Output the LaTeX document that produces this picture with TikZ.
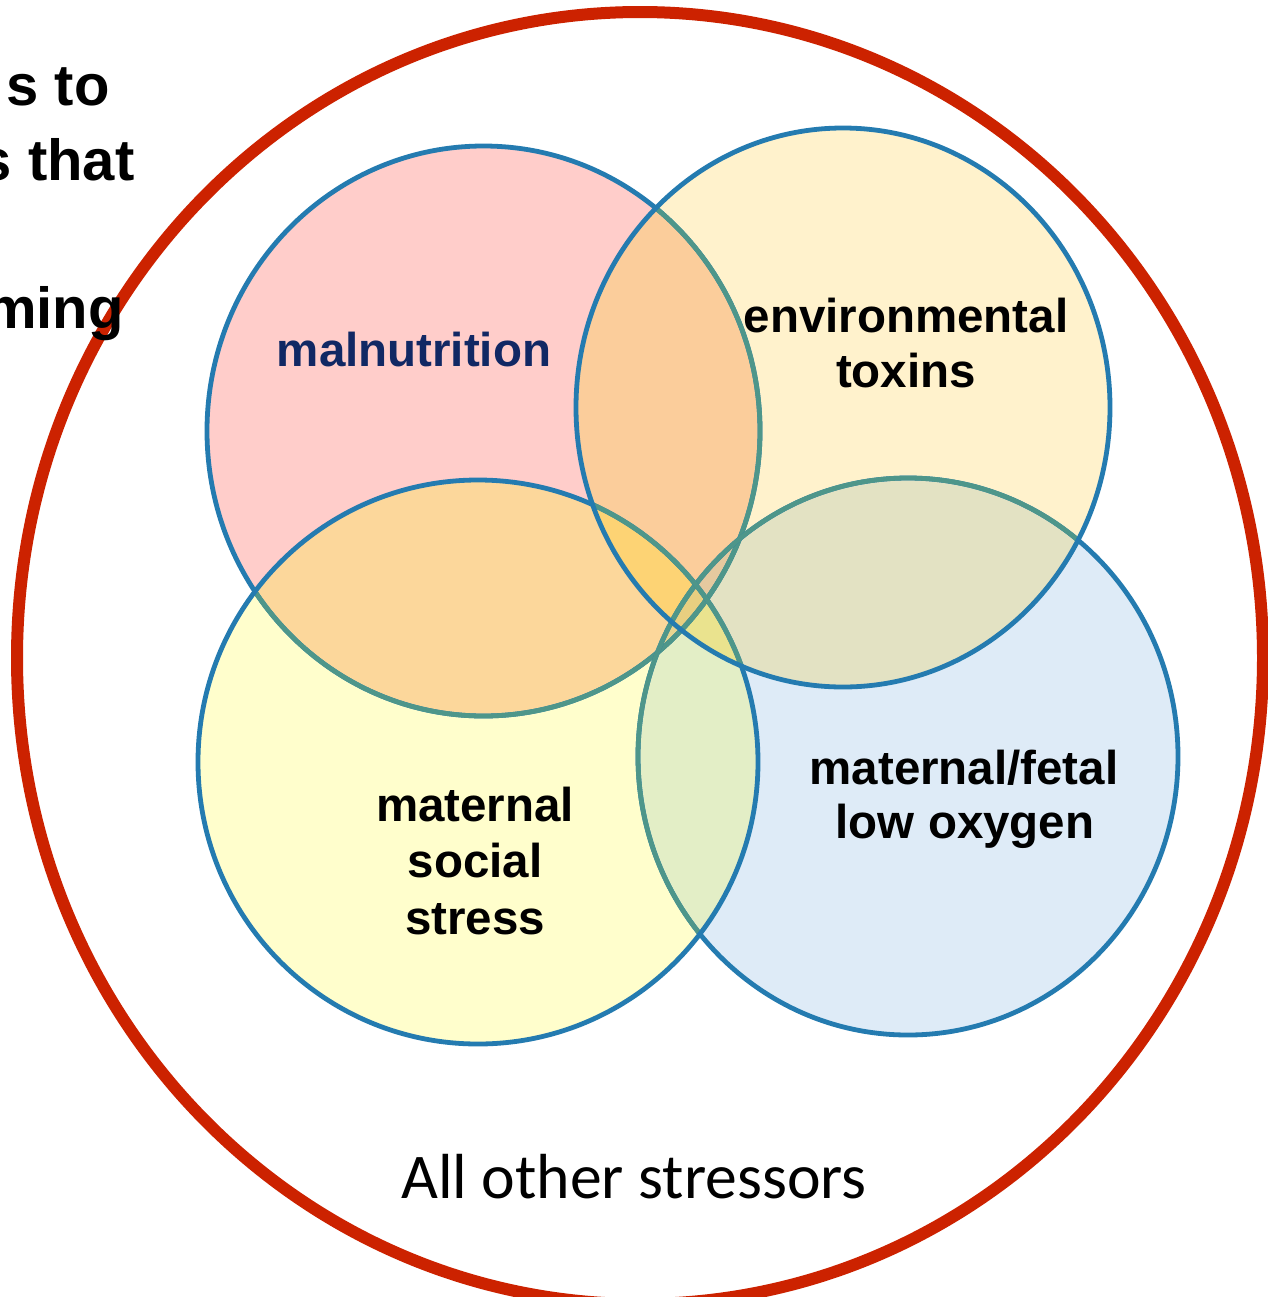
\documentclass[tikz,border=0pt]{standalone}
\usepackage{fontspec}
\setmainfont{Liberation Sans}
\newfontfamily\calibfont{Carlito}
\definecolor{vblue}{RGB}{36,123,176}
\definecolor{vteal}{RGB}{78,150,138}
\definecolor{vred}{RGB}{204,34,0}
\definecolor{cpink}{RGB}{255,205,202}
\definecolor{cenv}{RGB}{255,242,204}
\definecolor{csoc}{RGB}{255,254,204}
\definecolor{coxy}{RGB}{222,235,247}
\definecolor{cme}{RGB}{251,205,155}
\definecolor{cms}{RGB}{252,215,155}
\definecolor{ceo}{RGB}{227,226,195}
\definecolor{cso}{RGB}{227,238,198}
\definecolor{ces}{RGB}{253,228,165}
\definecolor{cmo}{RGB}{235,210,190}
\definecolor{cmes}{RGB}{253,211,116}
\definecolor{ceso}{RGB}{234,227,142}
\definecolor{cmeo}{RGB}{229,201,159}
\definecolor{cmso}{RGB}{232,213,144}
\definecolor{call}{RGB}{232,207,128}
\definecolor{navy}{RGB}{17,40,100}
\tikzset{
  lbl/.style={font=\bfseries\fontsize{23.75}{28}\selectfont, inner sep=0pt, anchor=base},
  tl/.style={font=\bfseries\fontsize{29}{34}\selectfont, inner sep=0pt, anchor=base east},
  vline/.style={draw=vblue, line width=2.4pt},
  tline/.style={draw=vteal, line width=2.4pt},
  pmal/.style={insert path={(483.5,431) ellipse [x radius=138.25pt, y radius=142.5pt]}},
  poxy/.style={insert path={(908,756.5) ellipse [x radius=135pt, y radius=139.25pt]}},
  psoc/.style={insert path={(478,762) ellipse [x radius=140pt, y radius=141pt]}},
  penv/.style={insert path={(843,407.5) ellipse [x radius=133.5pt, y radius=139.75pt]}},
}
\begin{document}
\begin{tikzpicture}[x=0.5pt,y=-0.5pt]
\useasboundingbox (0,0) rectangle (1268,1297);
\clip (0,0) rectangle (1268,1297);
\fill[white] (0,0) rectangle (1268,1297);
% big red circle
\draw[vred, line width=6pt] (640,658) ellipse [x radius=311.5pt, y radius=323pt];
% cut-off title text
\node[tl] (t1) at (110,105) {s to};
\node[tl] (t2) at (135,180) {s that};
\node[tl] (t3) at (124,328) {ming};
% single fills
\fill[cpink, pmal];
\fill[coxy, poxy];
\fill[csoc, psoc];
\fill[cenv, penv];
% pair fills
\begin{scope}\clip[pmal]; \fill[cme, penv]; \end{scope}
\begin{scope}\clip[pmal]; \fill[cms, psoc]; \end{scope}
\begin{scope}\clip[penv]; \fill[ceo, poxy]; \end{scope}
\begin{scope}\clip[psoc]; \fill[cso, poxy]; \end{scope}
\begin{scope}\clip[penv]; \fill[ces, psoc]; \end{scope}
\begin{scope}\clip[pmal]; \fill[cmo, poxy]; \end{scope}
% triple fills
\begin{scope}\clip[pmal]; \clip[penv]; \fill[cmes, psoc]; \end{scope}
\begin{scope}\clip[penv]; \clip[psoc]; \fill[ceso, poxy]; \end{scope}
\begin{scope}\clip[pmal]; \clip[penv]; \fill[cmeo, poxy]; \end{scope}
\begin{scope}\clip[pmal]; \clip[psoc]; \fill[cmso, poxy]; \end{scope}
% all four
\begin{scope}\clip[pmal]; \clip[penv]; \clip[psoc]; \fill[call, poxy]; \end{scope}
% outlines: malnutrition
\draw[vline, pmal];
\begin{scope}\clip[poxy]; \draw[tline, pmal]; \end{scope}
\begin{scope}\clip[psoc]; \draw[tline, pmal]; \end{scope}
\begin{scope}\clip[penv]; \draw[tline, pmal]; \end{scope}
% low oxygen
\draw[vline, poxy];
\begin{scope}\clip[psoc]; \draw[tline, poxy]; \end{scope}
\begin{scope}\clip[penv]; \draw[tline, poxy]; \end{scope}
% social stress
\draw[vline, psoc];
\begin{scope}\clip[penv]; \draw[tline, psoc]; \end{scope}
% environmental toxins
\draw[vline, penv];
% labels
\node[lbl, text=navy] (mal) at (414,366) {malnutrition};
\node[lbl] (env1) at (906,332) {environmental};
\node[lbl] (env2) at (906,387) {toxins};
\node[lbl] (soc1) at (475,821) {maternal};
\node[lbl] (soc2) at (475,877) {social};
\node[lbl] (soc3) at (475,934) {stress};
\node[lbl] (oxy1) at (964,784) {maternal/fetal};
\node[lbl] (oxy2) at (965,838) {low oxygen};
\node[font=\calibfont\fontsize{31.85}{36}\selectfont, inner sep=0pt, anchor=base] (other) at (634,1198) {All other stressors};
\end{tikzpicture}
\end{document}
